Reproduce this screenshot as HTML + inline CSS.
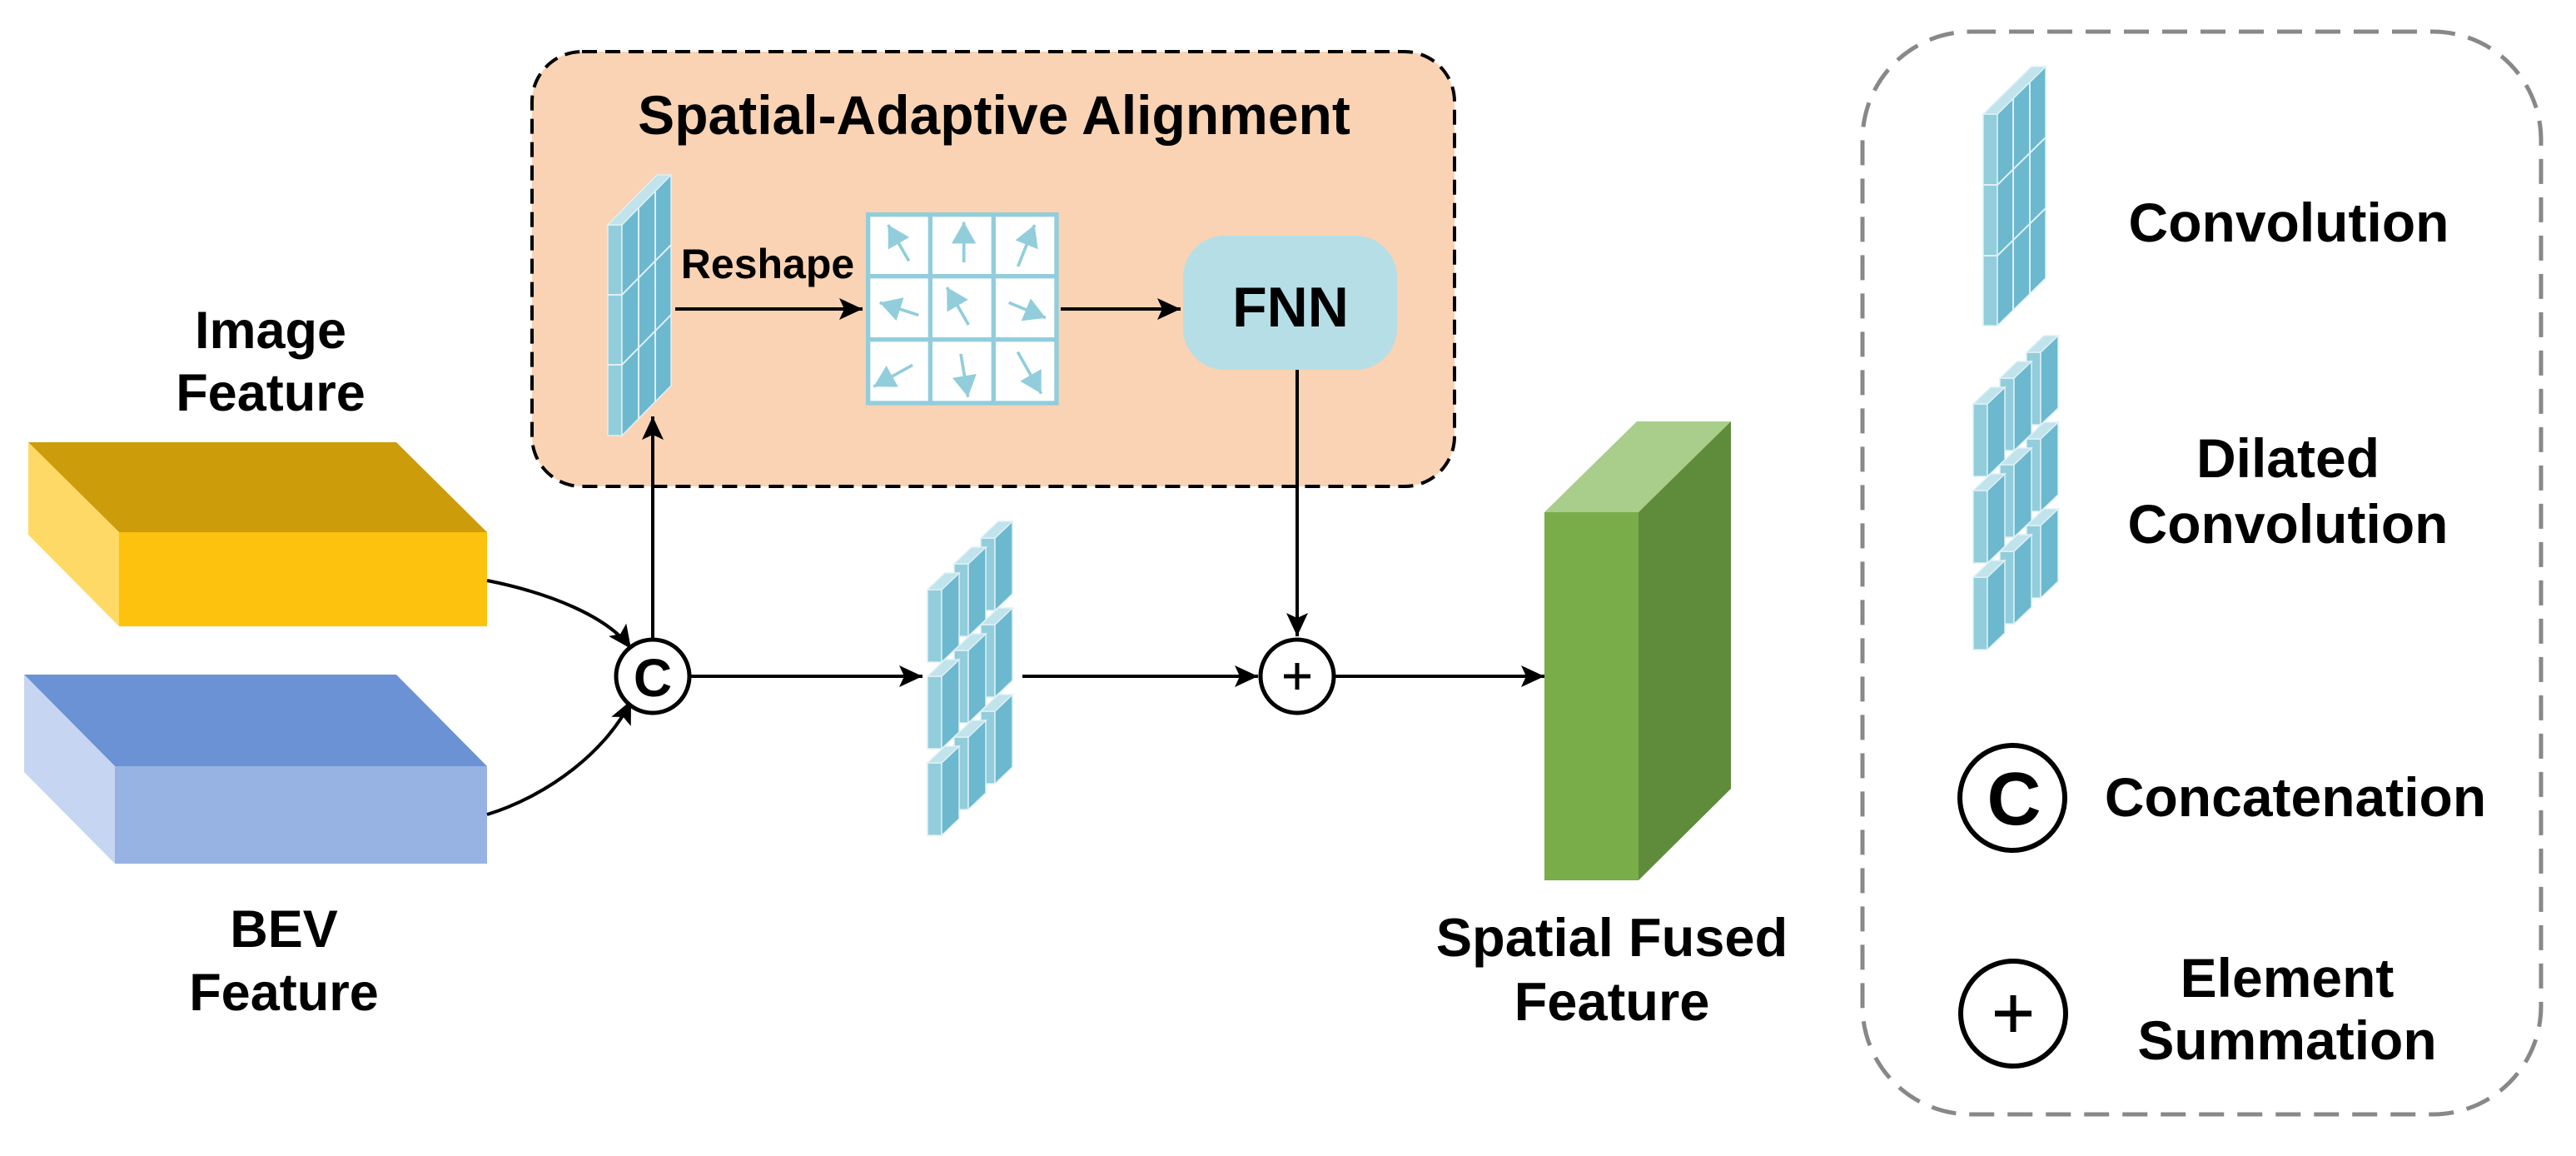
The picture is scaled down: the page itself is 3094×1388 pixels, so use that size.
<!DOCTYPE html>
<html><head><meta charset="utf-8"><style>
html,body{margin:0;padding:0;background:#fff;}
svg{display:block}
text{font-family:"Liberation Sans",sans-serif;font-weight:bold;fill:#000;text-anchor:middle}
</style></head><body>
<svg width="3094" height="1388" viewBox="0 0 3094 1388" xmlns="http://www.w3.org/2000/svg">
<defs>
<marker id="ah" markerUnits="userSpaceOnUse" markerWidth="30" markerHeight="26" refX="28" refY="13" orient="auto">
<path d="M0,0 L28,13 L0,26 L6,13 Z" fill="#000"/>
</marker>
<marker id="bh" markerUnits="strokeWidth" markerWidth="8" markerHeight="8" refX="7" refY="4" orient="auto">
<path d="M0,0 L7,4 L0,8 Z" fill="#92cddc"/>
</marker>
<g id="p">
<rect x="0" y="0" width="17" height="87" fill="#92cddc" stroke="#dff0f5" stroke-width="1.5"/>
<polygon points="17,0 38,-20 38,67 17,87" fill="#6bb8cf" stroke="#dff0f5" stroke-width="1.5"/>
<polygon points="0,0 21,-20 38,-20 17,0" fill="#c0e3ec" stroke="#dff0f5" stroke-width="1.5"/>
</g>
<g id="dil">
<use href="#p" x="64" y="-62"/><use href="#p" x="64" y="42"/><use href="#p" x="64" y="146"/>
<use href="#p" x="32" y="-31"/><use href="#p" x="32" y="73"/><use href="#p" x="32" y="177"/>
<use href="#p" x="0" y="0"/><use href="#p" x="0" y="104"/><use href="#p" x="0" y="208"/>
</g>
<g id="conv">
<rect x="0" y="0" width="17" height="253" fill="#92cddc" stroke="#dff0f5" stroke-width="1.5"/>
<polygon points="17,0 76,-60 76,193 17,253" fill="#6bb8cf" stroke="#dff0f5" stroke-width="1.5"/>
<polygon points="0,0 59,-60 76,-60 17,0" fill="#c0e3ec" stroke="#dff0f5" stroke-width="1.5"/>
<line x1="37" y1="-20" x2="37" y2="233" stroke="#dff0f5" stroke-width="2"/>
<line x1="57" y1="-40" x2="57" y2="213" stroke="#dff0f5" stroke-width="2"/>
<line x1="0" y1="84" x2="17" y2="84" stroke="#dff0f5" stroke-width="2"/>
<line x1="0" y1="168" x2="17" y2="168" stroke="#dff0f5" stroke-width="2"/>
<line x1="17" y1="84" x2="76" y2="24" stroke="#dff0f5" stroke-width="2"/>
<line x1="17" y1="168" x2="76" y2="108" stroke="#dff0f5" stroke-width="2"/>
</g>
</defs>

<rect x="639" y="62" width="1108" height="522" rx="60" fill="#f9d3b3" stroke="#000" stroke-width="4" stroke-dasharray="18 10"/>
<text x="1194" y="161" font-size="66">Spatial-Adaptive Alignment</text>

<use href="#conv" x="730" y="270"/>
<text x="922" y="334" font-size="50">Reshape</text>
<line x1="811" y1="371" x2="1036" y2="371" stroke="#000" stroke-width="4" marker-end="url(#ah)"/>

<g transform="translate(1030,230) scale(0.3333)">
<rect x="38" y="83" width="679" height="679" fill="#fff" stroke="#92cddc" stroke-width="16"/>
<line x1="262" y1="83" x2="262" y2="762" stroke="#92cddc" stroke-width="16"/>
<line x1="490" y1="83" x2="490" y2="762" stroke="#92cddc" stroke-width="16"/>
<line x1="38" y1="305" x2="717" y2="305" stroke="#92cddc" stroke-width="16"/>
<line x1="38" y1="533" x2="717" y2="533" stroke="#92cddc" stroke-width="16"/>
<g stroke="#92cddc" stroke-width="11" marker-end="url(#bh)">
<line x1="185" y1="250" x2="110" y2="120"/>
<line x1="383" y1="255" x2="383" y2="110"/>
<line x1="578" y1="270" x2="638" y2="120"/>
<line x1="220" y1="445" x2="80" y2="400"/>
<line x1="400" y1="480" x2="322" y2="345"/>
<line x1="545" y1="400" x2="678" y2="455"/>
<line x1="198" y1="625" x2="58" y2="703"/>
<line x1="372" y1="585" x2="398" y2="740"/>
<line x1="577" y1="578" x2="662" y2="728"/>
</g>
</g>
<line x1="1274" y1="371" x2="1418" y2="371" stroke="#000" stroke-width="4" marker-end="url(#ah)"/>

<rect x="1421" y="283" width="257" height="161" rx="50" fill="#b6dee7"/>
<text x="1550" y="392" font-size="68">FNN</text>
<line x1="1558" y1="444" x2="1558" y2="764" stroke="#000" stroke-width="4" marker-end="url(#ah)"/>

<polygon points="34,531 476,531 585,639 143,639" fill="#cc9c0a"/>
<polygon points="34,531 143,639 143,752 34,642" fill="#fed966"/>
<rect x="143" y="639" width="442" height="113" fill="#fdc20d"/>
<text x="325" y="418" font-size="63">Image</text>
<text x="325" y="493" font-size="63">Feature</text>

<polygon points="29,810 476,810 585,920 138,920" fill="#6a92d4"/>
<polygon points="29,810 138,920 138,1037 29,927" fill="#c6d5f1"/>
<rect x="138" y="920" width="447" height="117" fill="#97b3e3"/>
<text x="341" y="1137" font-size="63">BEV</text>
<text x="341" y="1213" font-size="63">Feature</text>

<path d="M585,697 C660,712 730,740 758,779" fill="none" stroke="#000" stroke-width="4" marker-end="url(#ah)"/>
<path d="M585,978 C660,955 730,900 758,841" fill="none" stroke="#000" stroke-width="4" marker-end="url(#ah)"/>

<circle cx="784" cy="812" r="44" fill="#fff" stroke="#000" stroke-width="5"/>
<text x="784" y="836" font-size="64">C</text>
<line x1="784" y1="767" x2="784" y2="500" stroke="#000" stroke-width="4" marker-end="url(#ah)"/>
<line x1="829" y1="812" x2="1108" y2="812" stroke="#000" stroke-width="4" marker-end="url(#ah)"/>

<use href="#dil" x="1114" y="708"/>
<line x1="1228" y1="812" x2="1511" y2="812" stroke="#000" stroke-width="4" marker-end="url(#ah)"/>

<circle cx="1558" cy="812" r="44" fill="#fff" stroke="#000" stroke-width="5"/>
<line x1="1542" y1="812" x2="1574" y2="812" stroke="#000" stroke-width="5"/>
<line x1="1558" y1="796" x2="1558" y2="828" stroke="#000" stroke-width="5"/>
<line x1="1603" y1="812" x2="1855" y2="812" stroke="#000" stroke-width="4" marker-end="url(#ah)"/>

<polygon points="1855,615 1968,615 2079,506 1966,506" fill="#a9cd8a"/>
<polygon points="1968,615 2079,506 2079,947 1968,1057" fill="#5e8c3b"/>
<rect x="1855" y="615" width="113" height="442" fill="#78ad4a"/>
<text x="1936" y="1148" font-size="65">Spatial Fused</text>
<text x="1936" y="1225" font-size="65">Feature</text>

<rect x="2237" y="38" width="815" height="1300" rx="130" fill="none" stroke="#888" stroke-width="5" stroke-dasharray="30 16"/>
<g transform="translate(2382,137)">
<rect x="0" y="0" width="17" height="254" fill="#92cddc" stroke="#dff0f5" stroke-width="1.5"/>
<polygon points="17,0 75,-57 75,197 17,254" fill="#6bb8cf" stroke="#dff0f5" stroke-width="1.5"/>
<polygon points="0,0 58,-57 75,-57 17,0" fill="#c0e3ec" stroke="#dff0f5" stroke-width="1.5"/>
<line x1="36" y1="-19" x2="36" y2="235" stroke="#dff0f5" stroke-width="2"/>
<line x1="56" y1="-38" x2="56" y2="216" stroke="#dff0f5" stroke-width="2"/>
<line x1="0" y1="85" x2="17" y2="85" stroke="#dff0f5" stroke-width="2"/>
<line x1="0" y1="170" x2="17" y2="170" stroke="#dff0f5" stroke-width="2"/>
<line x1="17" y1="85" x2="75" y2="28" stroke="#dff0f5" stroke-width="2"/>
<line x1="17" y1="170" x2="75" y2="113" stroke="#dff0f5" stroke-width="2"/>
</g>
<text x="2749" y="290" font-size="66">Convolution</text>

<use href="#dil" x="2370" y="485"/>
<text x="2748" y="573" font-size="66">Dilated</text>
<text x="2748" y="652" font-size="66">Convolution</text>

<circle cx="2417" cy="958" r="63" fill="#fff" stroke="#000" stroke-width="6"/>
<text x="2419" y="990" font-size="90">C</text>
<text x="2757" y="980" font-size="66">Concatenation</text>

<circle cx="2418" cy="1217" r="63" fill="#fff" stroke="#000" stroke-width="6"/>
<line x1="2396" y1="1217" x2="2440" y2="1217" stroke="#000" stroke-width="7"/>
<line x1="2418" y1="1195" x2="2418" y2="1239" stroke="#000" stroke-width="7"/>
<text x="2747" y="1197" font-size="66">Element</text>
<text x="2747" y="1272" font-size="66">Summation</text>
</svg>
</body></html>
